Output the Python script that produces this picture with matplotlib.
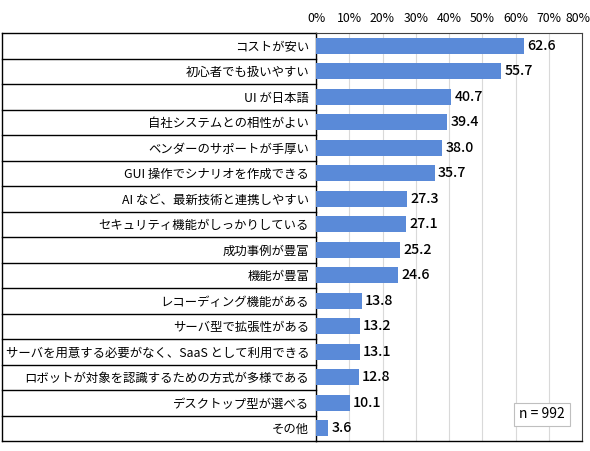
import matplotlib.pyplot as plt
from matplotlib.transforms import ScaledTranslation

plt.rcParams['font.family'] = ['Noto Sans CJK JP', 'DejaVu Sans']

categories = [
    'コストが安い',
    '初心者でも扱いやすい',
    'UI が日本語',
    '自社システムとの相性がよい',
    'ベンダーのサポートが手厚い',
    'GUI 操作でシナリオを作成できる',
    'AI など、最新技術と連携しやすい',
    'セキュリティ機能がしっかりしている',
    '成功事例が豊富',
    '機能が豊富',
    'レコーディング機能がある',
    'サーバ型で拡張性がある',
    'サーバを用意する必要がなく、SaaS として利用できる',
    'ロボットが対象を認識するための方式が多様である',
    'デスクトップ型が選べる',
    'その他',
]
values = [62.6, 55.7, 40.7, 39.4, 38.0, 35.7, 27.3, 27.1, 25.2, 24.6,
          13.8, 13.2, 13.1, 12.8, 10.1, 3.6]
xticks = [0, 10, 20, 30, 40, 50, 60, 70, 80]

W, H = 590, 451
fig = plt.figure(figsize=(W / 100, H / 100), dpi=100)
x0, x1, y0, y1 = 316, 582, 33, 441
ax = fig.add_axes([x0 / W, 1 - y1 / H, (x1 - x0) / W, (y1 - y0) / H])

n = len(categories)
pos = list(range(n))
ax.barh(pos, values, height=0.63, color='#5A8AD8', zorder=3)
for p, v in zip(pos, values):
    ax.text(v + 1.0, p, f'{v:.1f}', va='center', ha='left', fontsize=10.2,
            fontweight='medium', zorder=4)

ax.set_xlim(0, 80)
ax.set_ylim(n - 0.5, -0.5)
ax.xaxis.tick_top()
ax.set_xticks(xticks)
ax.set_xticklabels([f'{t}%' for t in xticks], fontsize=8.8)
ax.tick_params(axis='x', length=0, pad=6)
last = ax.get_xticklabels()[-1]
last.set_transform(last.get_transform() + ScaledTranslation(-4 / 100, 0, fig.dpi_scale_trans))
ax.set_yticks(pos)
ax.set_yticklabels(categories, fontsize=8.9)
ax.tick_params(axis='y', length=0, pad=5)
ax.grid(axis='x', color='#D9D9D9', linewidth=0.8, zorder=0)
for s in ['top', 'right']:
    ax.spines[s].set_color('#404040')
for s in ['bottom', 'left']:
    ax.spines[s].set_color('black')
    ax.spines[s].set_linewidth(1.0)

# left label table
tr = ax.get_yaxis_transform()
xl = (2 - x0) / (x1 - x0)
for i in range(n + 1):
    ax.plot([xl, 0], [i - 0.5, i - 0.5], transform=tr, color='black',
            linewidth=1.0, clip_on=False)
ax.plot([xl, xl], [-0.5, n - 0.5], transform=tr, color='black',
        linewidth=1.0, clip_on=False)

ax.text(0.935, 0.065, 'n = 992', transform=ax.transAxes,
        ha='right', va='center', fontsize=10,
        bbox=dict(boxstyle='square,pad=0.35', facecolor='white', edgecolor='#BFBFBF', linewidth=0.8),
        zorder=5)

fig.savefig('out.png', dpi=100)
